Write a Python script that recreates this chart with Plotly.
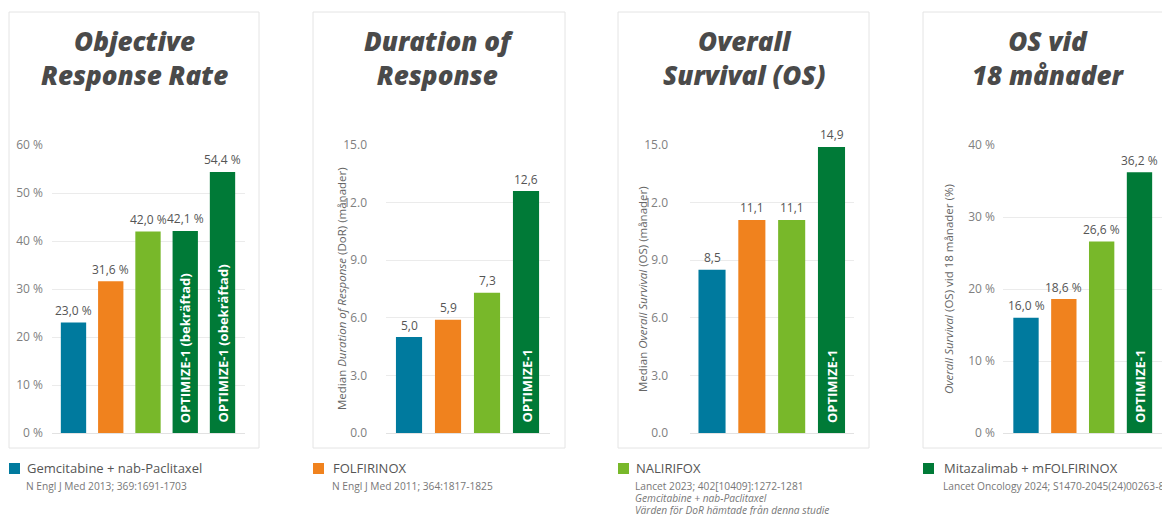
import plotly.graph_objects as go

W, H = 1162, 515

# ---------------- data ----------------
color_blue = "#007a9e"
color_orange = "#f0821e"
color_lgreen = "#78b82a"
color_dgreen = "#007a37"

orr_values = [23.0, 31.6, 42.0, 42.1, 54.4]
orr_labels = ["23,0 %", "31,6 %", "42,0 %", "42,1 %", "54,4 %"]
orr_inside = ["", "", "", "OPTIMIZE-1 (bekräftad)", "OPTIMIZE-1 (obekräftad)"]
orr_colors = [color_blue, color_orange, color_lgreen, color_dgreen, color_dgreen]

dor_values = [5.0, 5.9, 7.3, 12.6]
dor_labels = ["5,0", "5,9", "7,3", "12,6"]

os_values = [8.5, 11.1, 11.1, 14.9]
os_labels = ["8,5", "11,1", "11,1", "14,9"]

os18_values = [16.0, 18.6, 26.6, 36.2]
os18_labels = ["16,0 %", "18,6 %", "26,6 %", "36,2 %"]

four_inside = ["", "", "", "OPTIMIZE-1"]
four_colors = [color_blue, color_orange, color_lgreen, color_dgreen]

titles = ["Objective<br>Response Rate", "Duration of<br>Response",
          "Overall<br>Survival (OS)", "OS vid<br>18 månader"]
ytitles = ["", "Median <i>Duration of Response</i> (DoR) (månader)",
           "Median <i>Overall Survival</i> (OS) (månader)",
           "<i>Overall Survival</i> (OS) vid 18 månader (%)"]

legend_names = ["Gemcitabine + nab-Paclitaxel", "FOLFIRINOX", "NALIRIFOX",
                "Mitazalimab + mFOLFIRINOX"]
legend_refs = [["N Engl J Med 2013; 369:1691-1703"],
               ["N Engl J Med 2011; 364:1817-1825"],
               ["Lancet 2023; 402[10409]:1272-1281",
                "<i>Gemcitabine + nab-Paclitaxel</i>",
                "<i>Värden för DoR hämtade från denna studie</i>"],
               ["Lancet Oncology 2024; S1470-2045(24)00263-8"]]

# ---------------- layout geometry (pixels) ----------------
panels = [
    dict(values=orr_values, labels=orr_labels, inside=orr_inside, colors=orr_colors,
         dom=(52, 245), xr=(-0.577, 4.604), yr=(0, 60), dtick=10, fmt="", suffix=" %",
         standoff=8, card=(9, 259), ytx=None, width=0.68),
    dict(values=dor_values, labels=dor_labels, inside=four_inside, colors=four_colors,
         dom=(386, 550), xr=(-0.59, 3.615), yr=(0, 15), dtick=3, fmt=".1f", suffix="",
         standoff=18, card=(313, 565), ytx=341, width=0.67),
    dict(values=os_values, labels=os_labels, inside=four_inside, colors=four_colors,
         dom=(690, 854), xr=(-0.553, 3.565), yr=(0, 15), dtick=3, fmt=".1f", suffix="",
         standoff=21, card=(618, 869), ytx=642, width=0.68),
    dict(values=os18_values, labels=os18_labels, inside=four_inside, colors=four_colors,
         dom=(1003, 1162), xr=(-0.608, 3.595), yr=(0, 40), dtick=10, fmt="", suffix=" %",
         standoff=7, card=(923, 1173), ytx=948, width=0.67),
]

PLOT_TOP, PLOT_BOT = 145, 433
CARD_TOP, CARD_BOT = 12, 448
LEGEND_TX = [25, 331, 634, 942]

def px(x):
    return x / W

def py(y):
    return 1 - y / H

FONT = "Open Sans"
fig = go.Figure()
annotations = []
shapes = []

for i, p in enumerate(panels):
    n = i + 1
    xa = "x" if n == 1 else f"x{n}"
    ya = "y" if n == 1 else f"y{n}"
    fig.add_trace(go.Bar(
        x=list(range(len(p["values"]))), y=p["values"],
        marker=dict(color=p["colors"], line=dict(width=0)),
        width=p["width"], xaxis=xa, yaxis=ya, showlegend=False,
        hoverinfo="skip",
    ))
    fig.update_layout(**{
        ("xaxis" if n == 1 else f"xaxis{n}"): dict(
            domain=[px(p["dom"][0]), min(1.0, px(p["dom"][1]))], range=list(p["xr"]),
            showticklabels=False, showgrid=False, zeroline=False, anchor=ya,
            fixedrange=True),
        ("yaxis" if n == 1 else f"yaxis{n}"): dict(
            domain=[py(PLOT_BOT), py(PLOT_TOP)], range=list(p["yr"]), dtick=p["dtick"],
            tick0=0, tickformat=p["fmt"], ticksuffix=p["suffix"], anchor=xa,
            showgrid=True, gridcolor="#ebebeb", gridwidth=1,
            zeroline=True, zerolinecolor="#e2e2e2", zerolinewidth=1,
            ticklabelstandoff=p["standoff"], automargin=False,
            tickfont=dict(family=FONT, size=12, color="#808080"), fixedrange=True),
    })
    # value labels above bars
    for j, (v, lab) in enumerate(zip(p["values"], p["labels"])):
        annotations.append(dict(
            x=j, y=v, xref=xa, yref=ya, text=lab, showarrow=False,
            yanchor="middle", yshift=12,
            font=dict(family=FONT, size=12, color="#555555")))
        if p["inside"][j]:
            annotations.append(dict(
                x=j, y=0, xref=xa, yref=ya, text=p["inside"][j], showarrow=False,
                yanchor="bottom", xanchor="center", yshift=8, textangle=-90,
                font=dict(family=FONT, size=13, color="white", weight="bold")))
    # card
    c0, c1 = p["card"]
    shapes.append(dict(type="rect", xref="paper", yref="paper",
                       x0=px(c0), x1=px(c1), y0=py(CARD_BOT), y1=py(CARD_TOP),
                       line=dict(color="#e4e4e4", width=1), fillcolor="white",
                       layer="below"))
    # title
    annotations.append(dict(
        x=px((c0 + c1) / 2), y=py(58), xref="paper", yref="paper",
        text=f"<i>{titles[i]}</i>", showarrow=False, xanchor="center", yanchor="middle",
        font=dict(family=FONT, size=26, color="#4a4a4a", weight=800)))
    # y axis title
    if p["ytx"] is not None:
        annotations.append(dict(
            x=px(p["ytx"]), y=py((PLOT_TOP + PLOT_BOT) / 2), xref="paper", yref="paper",
            text=ytitles[i], showarrow=False, textangle=-90,
            xanchor="center", yanchor="middle",
            font=dict(family=FONT, size=11.5, color="#666666")))
    # legend
    sx = c0
    shapes.append(dict(type="rect", xref="paper", yref="paper",
                       x0=px(sx), x1=px(sx + 11), y0=py(474), y1=py(463),
                       line=dict(width=0), fillcolor=four_colors[i]))
    tx = LEGEND_TX[i]
    annotations.append(dict(
        x=px(tx), y=py(468), xref="paper", yref="paper", text=legend_names[i],
        showarrow=False, xanchor="left", yanchor="middle",
        font=dict(family=FONT, size=13, color="#555555")))
    for k, line in enumerate(legend_refs[i]):
        annotations.append(dict(
            x=px(tx), y=py(485.5 + 12 * k), xref="paper", yref="paper", text=line,
            showarrow=False, xanchor="left", yanchor="middle", borderpad=0,
            font=dict(family=FONT, size=10.2, color="#777777")))

fig.update_layout(
    width=W, height=H, margin=dict(l=0, r=0, t=0, b=0, autoexpand=False),
    paper_bgcolor="white", plot_bgcolor="rgba(0,0,0,0)",
    barmode="group", showlegend=False,
    annotations=annotations, shapes=shapes,
    font=dict(family=FONT),
)

fig.write_html(
    "out.html",
    config={"displayModeBar": False},
    post_script="document.body.style.margin='0';document.body.style.overflow='hidden';",
)
